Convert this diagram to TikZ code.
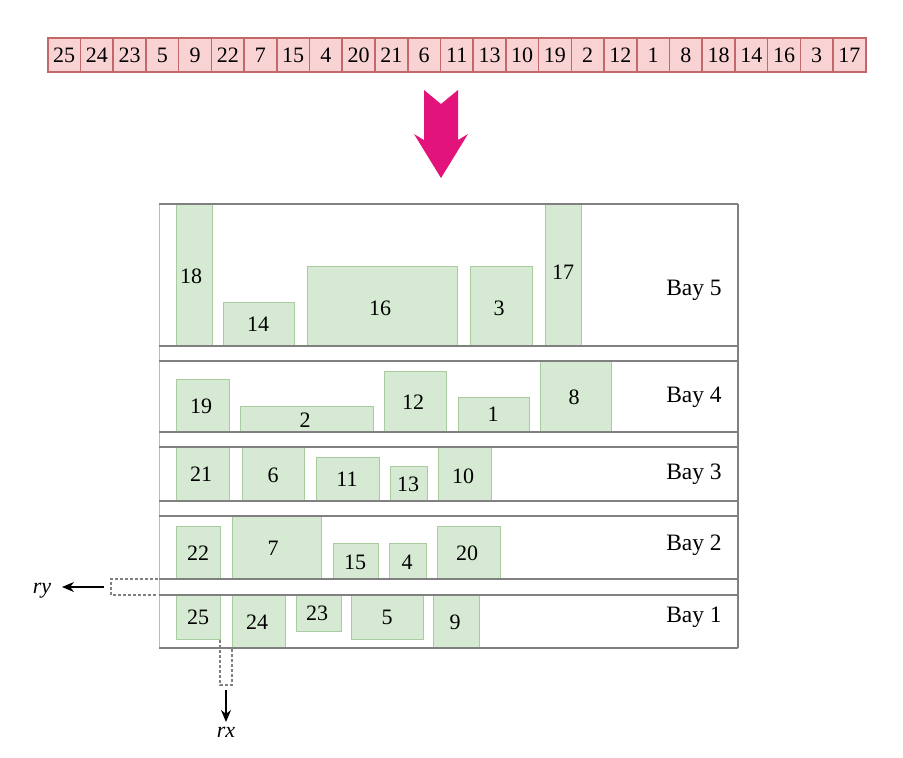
\documentclass[tikz,border=0pt]{standalone}
\usepackage{fontspec}
\setmainfont{Liberation Serif}
\usetikzlibrary{arrows.meta}
\definecolor{pinkfill}{RGB}{249,211,212}
\definecolor{pinkline}{RGB}{196,103,107}
\definecolor{magent}{RGB}{226,19,122}
\definecolor{grfill}{RGB}{214,234,211}
\definecolor{grline}{RGB}{168,204,160}
\definecolor{bayline}{RGB}{128,128,128}
\tikzset{
  cell/.style={draw=pinkline, fill=pinkfill, line width=1.6pt, minimum width=32.72pt, minimum height=34pt, inner sep=0pt, anchor=west},
  blk/.style={draw=grline, fill=grfill, line width=1pt},
  lbl/.style={inner sep=0pt, font=\fontsize{22}{26}\selectfont},
  baylbl/.style={inner sep=0pt, font=\fontsize{23.5}{28}\selectfont},
  bayl/.style={line width=1.6pt, draw=bayline},
  dsh/.style={densely dashed, draw=bayline, line width=1.2pt},
  arr/.style={-{Stealth[length=12pt,width=10pt]}, line width=1.2pt}
}
\newcommand{\blk}[8]{\draw[blk] (#2,#3) rectangle (#4,#5); \node[lbl] (b#1) at (#6,#7) {#8};}
\begin{document}
\begin{tikzpicture}[x=1pt,y=-1pt]
\useasboundingbox (0,0) rectangle (903,758);
% top strip
\foreach \v [count=\i from 0] in {25,24,23,5,9,22,7,15,4,20,21,6,11,13,10,19,2,12,1,8,18,14,16,3,17}{
  \node[cell, font=\fontsize{22}{26}\selectfont] (c\i) at ({47+32.72*\i},55) {\v};
}
% big arrow
\fill[magent] (424,90) -- (441,104) -- (458,90) -- (458,140) -- (468,134) -- (441,178) -- (414,134) -- (424,140) -- cycle;
% frame sides
\draw[grline, line width=1pt] (159,204) -- (159,648);
\draw[bayline, line width=1.6pt] (738,204) -- (738,648);
% bay 5
\blk{18}{176}{204}{212}{346}{191}{276}{18}
\blk{14}{223}{302}{294}{346}{258}{324}{14}
\blk{16}{307}{266}{457}{346}{380}{308}{16}
\blk{3}{470}{266}{532}{346}{499}{308}{3}
\blk{17}{545}{204}{581}{346}{563}{272}{17}
% bay 4
\blk{19}{176}{379}{229}{432}{201}{406}{19}
\blk{2}{240}{406}{373}{432}{305}{420}{2}
\blk{12}{384}{371}{446}{432}{413}{402}{12}
\blk{1}{458}{397}{529}{432}{493}{414}{1}
\blk{8}{540}{361}{611}{432}{574}{397}{8}
% bay 3
\blk{21}{176}{447}{229}{501}{201}{474}{21}
\blk{6}{242}{447}{304}{501}{273}{475}{6}
\blk{11}{316}{457}{379}{501}{347}{479}{11}
\blk{13}{390}{466}{427}{501}{408}{484}{13}
\blk{10}{438}{447}{491}{501}{463}{476}{10}
% bay 2
\blk{22}{176}{526}{220}{579}{198}{553}{22}
\blk{7}{232}{516}{321}{579}{273}{548}{7}
\blk{15}{333}{543}{378}{579}{355}{562}{15}
\blk{4}{389}{543}{426}{579}{407}{562}{4}
\blk{20}{437}{526}{500}{579}{467}{553}{20}
% bay 1
\blk{25}{176}{595}{220}{639}{198}{617}{25}
\blk{24}{232}{595}{285}{648}{257}{622}{24}
\blk{23}{296}{595}{341}{631}{317}{613}{23}
\blk{5}{351}{595}{423}{639}{387}{617}{5}
\blk{9}{433}{595}{479}{648}{455}{622}{9}
% bay lines
\foreach \y in {204,346,361,432,447,501,516,579,595,648}{
  \draw[bayl] (159,\y) -- (738,\y);
}
% bay labels
\node[baylbl] (bay5) at (694,290) {Bay 5};
\node[baylbl] (bay4) at (694,397) {Bay 4};
\node[baylbl] (bay3) at (694,474) {Bay 3};
\node[baylbl] (bay2) at (694,545) {Bay 2};
\node[baylbl] (bay1) at (694,617) {Bay 1};
% ry
\draw[dsh] (158,579) -- (111,579) -- (111,595) -- (158,595);
\node[lbl, font=\fontsize{22}{26}\selectfont\itshape] (ry) at (42,591) {ry};
% rx
\draw[dsh] (220,640) -- (220,685) -- (232,685) -- (232,649);
\node[lbl, font=\fontsize{22}{26}\selectfont\itshape, anchor=north] (rx) at (226,727) {rx};
\begin{scope}[y=1pt]
  \coordinate (rys) at (104,-587);
  \coordinate (rye) at (62,-587);
  \coordinate (rxs) at (226,-690);
  \coordinate (rxe) at (226,-722);
  \draw[arr] (rys) -- (rye);
  \draw[arr] (rxs) -- (rxe);
\end{scope}
\end{tikzpicture}
\end{document}
